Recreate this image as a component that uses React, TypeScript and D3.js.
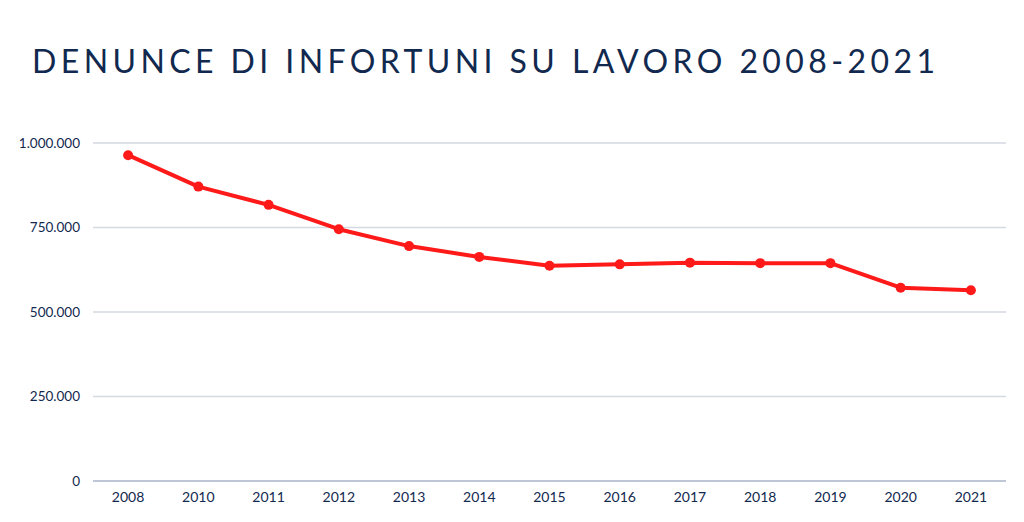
import React from "react";
import * as d3 from "d3";

// Data
const years = ["2008", "2010", "2011", "2012", "2013", "2014", "2015", "2016", "2017", "2018", "2019", "2020", "2021"];
const denunce = [964000, 871000, 817000, 745000, 695000, 663000, 637000, 641000, 646000, 644500, 644500, 572000, 564500];
const yTicks = [0, 250000, 500000, 750000, 1000000];

const W = 1024;
const H = 522;
const margin = { top: 143, right: 18, bottom: 41, left: 93 };
const navy = "#12294f";

const fmt = (v: number) => d3.format(",")(v).replace(/,/g, ".");

const App: React.FC = () => {
	const x = d3
		.scalePoint<string>()
		.domain(years)
		.range([margin.left, W - margin.right])
		.padding(0.5);

	const y = d3
		.scaleLinear()
		.domain([0, 1000000])
		.range([H - margin.bottom, margin.top]);

	const line = d3
		.line<number>()
		.x((_, i) => x(years[i]) as number)
		.y((d) => y(d));

	return (
		<svg
			width={W}
			height={H}
			style={{ position: "absolute", left: 0, top: 0, background: "#fff" }}
			fontFamily="Lato, 'Open Sans', sans-serif"
		>
			{/* Title */}
			<text
				x={32}
				y={73}
				fill={navy}
				fontSize={32}
				textLength={903}
				lengthAdjust="spacing"
			>
				DENUNCE DI INFORTUNI SU LAVORO 2008-2021
			</text>

			{/* Grid + y labels */}
			{yTicks.map((t) => (
				<g key={t}>
					<line
						x1={margin.left}
						x2={W - margin.right}
						y1={y(t)}
						y2={y(t)}
						stroke={t === 0 ? "#aab5c8" : "#d3d9e1"}
						strokeWidth={1.3}
					/>
					<text
						x={80}
						y={y(t)}
						dy="0.35em"
						textAnchor="end"
						fill={navy}
						fontSize={13.5}
					>
						{fmt(t)}
					</text>
				</g>
			))}

			{/* X labels */}
			{years.map((yr) => (
				<text
					key={yr}
					x={x(yr)}
					y={502}
					textAnchor="middle"
					fill={navy}
					fontSize={14}
				>
					{yr}
				</text>
			))}

			{/* Line */}
			<path
				d={line(denunce) || ""}
				fill="none"
				stroke="#ff1a1a"
				strokeWidth={4}
				strokeLinejoin="round"
			/>
			{denunce.map((v, i) => (
				<circle key={years[i]} cx={x(years[i])} cy={y(v)} r={5} fill="#ff1a1a" />
			))}
		</svg>
	);
};

export default App;
